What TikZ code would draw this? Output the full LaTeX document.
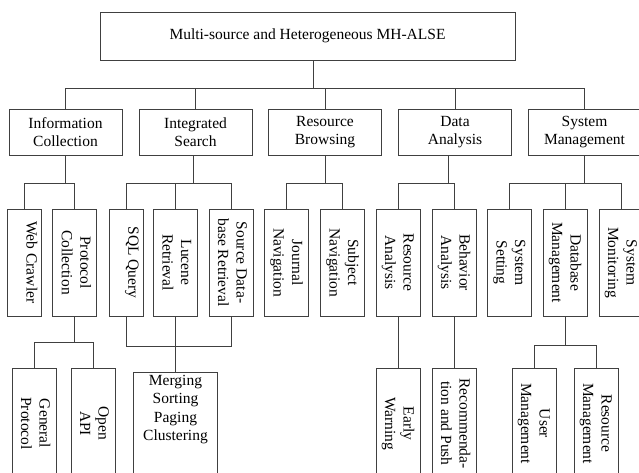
\documentclass[tikz,border=0pt]{standalone}
\usepackage{graphicx}
\usepackage{fontspec}
\setmainfont{Liberation Serif}
\newcommand{\vtext}[2][0pt]{\hspace*{#1}\rotatebox{-90}{\begin{tabular}{@{}c@{}}#2\end{tabular}}}

\begin{document}
\begin{tikzpicture}[x=1pt, y=-1pt,
  every node/.style={font=\fontsize{15.5}{18.5}\selectfont},
  topbox/.style={draw=black!75, line width=0.8pt, minimum width=415pt, minimum height=48pt},
  catbox/.style={draw=black!75, line width=0.8pt, align=center,
                 minimum width=113pt, minimum height=46pt, inner sep=2pt},
  vbox/.style={draw=black!75, line width=0.8pt, minimum width=44pt,
               minimum height=107pt, inner sep=1.5pt},
  leaf/.style={vbox, minimum height=110pt},
  mergebox/.style={draw=black!75, line width=0.8pt, inner sep=3pt},
  link/.style={draw=black!75, line width=0.8pt}
]
  \useasboundingbox (0,0) rectangle (639,473);
  \clip (0,0) rectangle (639,473);

  \node[topbox] (root) at (307.5,36) {Multi-source and Heterogeneous MH-ALSE};

  \node[catbox] (ic) at (65.5,132)  {Information\\Collection};
  \node[catbox] (is) at (195.5,132) {Integrated\\Search};
  \node[catbox] (rb) at (325,132)   {Resource\\Browsing};
  \node[catbox] (da) at (455,132)   {Data\\Analysis};
  \node[catbox] (sm) at (584.5,132) {System\\Management};

  \node[vbox, minimum width=34pt] (wc) at (24.3,262.5) {\vtext[12pt]{Web Crawler}};
  \node[vbox] (pc) at (74.7,262.5)  {\vtext{Protocol\\Collection}};
  \node[vbox, minimum width=34pt] (sq) at (126,262.5) {\vtext[12pt]{SQL Query}};
  \node[vbox] (lr) at (175.5,262.5) {\vtext{Lucene\\Retrieval}};
  \node[vbox] (sd) at (231,262.5)   {\vtext{Source Data-\\base Retrieval}};
  \node[vbox] (jn) at (286.5,262.5) {\vtext{Journal\\Navigation}};
  \node[vbox] (sn) at (342.5,262.5) {\vtext{Subject\\Navigation}};
  \node[vbox] (ra) at (398,262.5)   {\vtext{Resource\\Analysis}};
  \node[vbox] (ba) at (454,262.5)   {\vtext{Behavior\\Analysis}};
  \node[vbox] (ss) at (509.5,262.5) {\vtext{System\\Setting}};
  \node[vbox] (dm) at (565,262.5)   {\vtext{Database\\Management}};
  \node[vbox] (sy) at (621,262.5)   {\vtext{System\\Monitoring}};

  \node[leaf] (gp) at (34,423.5)  {\vtext{General\\Protocol}};
  \node[leaf] (oa) at (93,423.5)  {\vtext{Open\\API}};
  \node[mergebox] (mg) at (175.5,426)
       {\parbox[c][102pt][t]{78pt}{\centering Merging\\Sorting\\Paging\\Clustering}};
  \node[leaf] (ew) at (398,423.5) {\vtext{Early\\Warning}};
  \node[leaf] (rp) at (454,423.5) {\vtext{Recommenda-\\tion and Push}};
  \node[leaf] (um) at (534,423.5) {\vtext{User\\Management}};
  \node[leaf] (rm) at (596,423.5) {\vtext{Resource\\Management}};

  \draw[link] ([xshift=5.5pt]root.south) -- ++(0,28) coordinate (rootbus);
  \foreach \c in {ic,is,rb,da,sm} \draw[link] (rootbus) -| (\c.north);

  \draw[link] (ic.south) -- ++(0,28) coordinate (icbus);
  \foreach \c in {wc,pc} \draw[link] (icbus) -| (\c.north);
  \draw[link] ([xshift=-2.5pt]is.south) -- ++(0,28) coordinate (isbus);
  \foreach \c in {sq,lr,sd} \draw[link] (isbus) -| (\c.north);
  \draw[link] (rb.south) -- ++(0,28) coordinate (rbbus);
  \foreach \c in {jn,sn} \draw[link] (rbbus) -| (\c.north);
  \draw[link] ([xshift=-7pt]da.south) -- ++(0,28) coordinate (dabus);
  \foreach \c in {ra,ba} \draw[link] (dabus) -| (\c.north);
  \draw[link] (sm.south) -- ++(0,28) coordinate (smbus);
  \foreach \c in {ss,dm,sy} \draw[link] (smbus) -| (\c.north);

  \draw[link] (pc.south) -- ++(0,26) coordinate (pcbus);
  \foreach \c in {gp,oa} \draw[link] (pcbus) -| (\c.north);
  \draw[link] (sq.south) -- ++(0,30) -| (sd.south);
  \draw[link] (lr.south) -- (mg.north);
  \draw[link] (ra.south) -- (ew.north);
  \draw[link] (ba.south) -- (rp.north);
  \draw[link] (dm.south) -- ++(0,29) coordinate (dmbus);
  \foreach \c in {um,rm} \draw[link] (dmbus) -| (\c.north);
\end{tikzpicture}
\end{document}
